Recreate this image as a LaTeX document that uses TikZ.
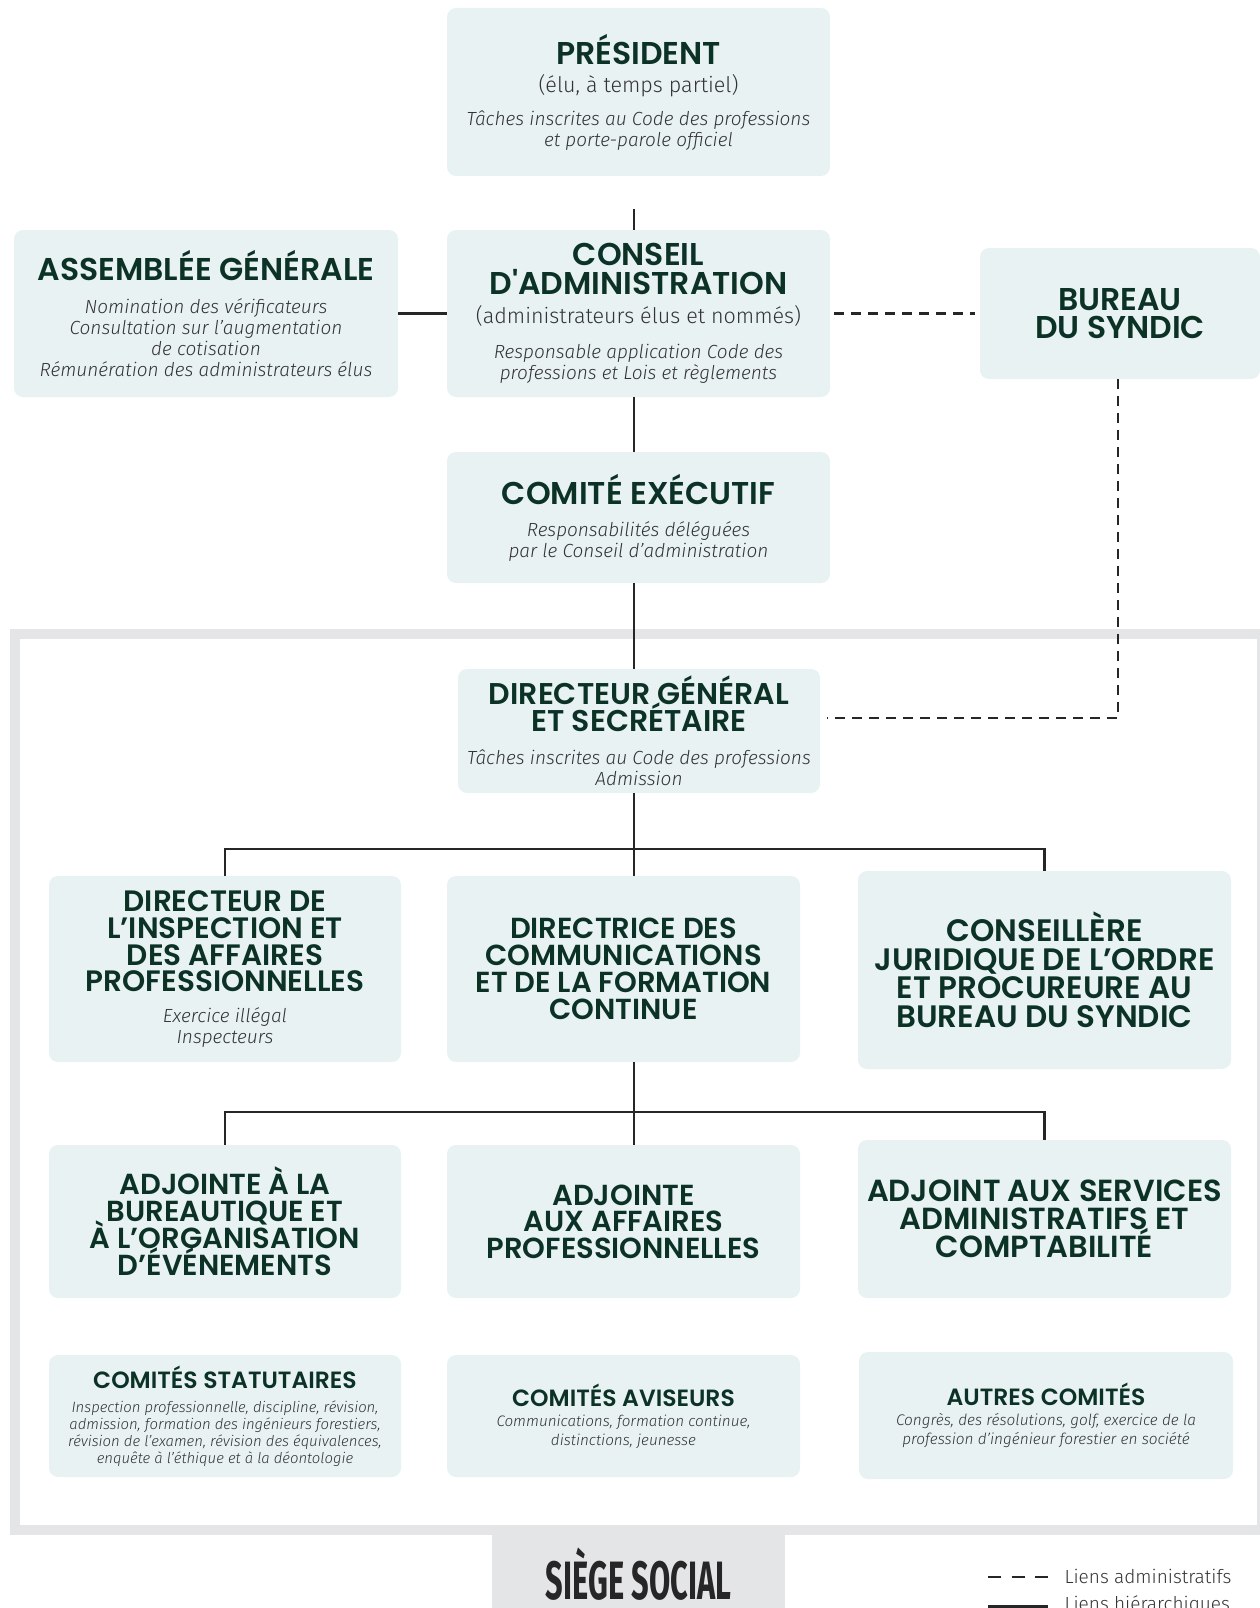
\documentclass[tikz,border=0pt]{standalone}
\usepackage{graphicx}
\usepackage{fontspec}
\setmainfont{Fira Sans Light}[ItalicFont={Fira Sans Light Italic}, BoldFont={Fira Sans Bold}]
\newfontfamily\popfont{Poppins}[BoldFont={Poppins SemiBold}]
\setlength{\lineskiplimit}{-100pt}

\definecolor{boxfill}{HTML}{E8F2F2}
\definecolor{framegray}{HTML}{E4E5E7}
\definecolor{hdgreen}{HTML}{0C3226}
\definecolor{txtgray}{HTML}{333333}
\definecolor{linegray}{HTML}{262626}

\newcommand\hd[2][31.5]{{\popfont\upshape\bfseries\fontsize{#1}{#1}\selectfont\color{hdgreen}#2}}
\newcommand\paren[1]{{\upshape\fontsize{21.5}{21.5}\selectfont #1}}

\tikzset{
  box/.style={rectangle, rounded corners=9pt, fill=boxfill, inner sep=0pt, align=center,
    text=txtgray, font=\fontsize{19}{21}\selectfont\itshape},
  hier/.style={draw=linegray, line width=2.4pt},
  admin/.style={hier, dash pattern=on 10pt off 7pt},
}

\begin{document}
\begin{tikzpicture}[x=1pt, y=-1pt]
  \useasboundingbox (0,0) rectangle (1260,1608);
  \draw[framegray, line width=10pt] (15,634) rectangle (1262,1530);
  \node[fill=framegray, minimum width=293pt, minimum height=88pt, inner sep=0pt] (siege) at (638.5,1574)
    {\scalebox{0.57}[1]{\bfseries\fontsize{54}{54}\selectfont\color{black!85}SIÈGE SOCIAL}};

  % gouvernance
  \node[box, minimum width=383pt, minimum height=168pt] (pres) at (638.5,92)
    {\hd{PRÉSIDENT}\\[7pt]\paren{(élu, à temps partiel)}\\[12pt]Tâches inscrites au Code des professions\\et porte-parole officiel};
  \node[box, minimum width=384pt, minimum height=167pt] (ag) at (206,313.5)
    {\hd{ASSEMBLÉE GÉNÉRALE}\\[12pt]Nomination des vérificateurs\\Consultation sur l’augmentation\\de cotisation\\Rémunération des administrateurs élus};
  \node[box, minimum width=383pt, minimum height=167pt] (ca) at (638.5,313.5)
    {\hd{CONSEIL}\\[8pt]\hd{D'ADMINISTRATION}\\[8pt]\paren{(administrateurs élus et nommés)}\\[14pt]Responsable application Code des\\professions et Lois et règlements};
  \node[box, minimum width=280pt, minimum height=131pt] (bureau) at (1120,313.5)
    {\hd{BUREAU}\\[7pt]\hd{DU SYNDIC}};
  \node[box, minimum width=383pt, minimum height=131pt] (ce) at (638.5,517.5)
    {\hd{COMITÉ EXÉCUTIF}\\[11pt]Responsabilités déléguées\\par le Conseil d’administration};
  \node[box, minimum width=362pt, minimum height=124pt] (dg) at (639,731)
    {\hd[30]{DIRECTEUR GÉNÉRAL}\\[6pt]\hd[30]{ET SECRÉTAIRE}\\[12pt]Tâches inscrites au Code des professions\\Admission};

  % directions
  \node[box, minimum width=352pt, minimum height=186pt] (insp) at (225,969)
    {\hd[29.5]{DIRECTEUR DE}\\[6pt]\hd[29.5]{L’INSPECTION ET}\\[6pt]\hd[29.5]{DES AFFAIRES}\\[5pt]\hd[29.5]{PROFESSIONNELLES}\\[10pt]Exercice illégal\\Inspecteurs};
  \node[box, minimum width=353pt, minimum height=186pt] (comm) at (623.5,969)
    {\hd[29]{DIRECTRICE DES}\\[6pt]\hd[29]{COMMUNICATIONS}\\[6pt]\hd[29]{ET DE LA FORMATION}\\[6pt]\hd[29]{CONTINUE}};
  \node[box, minimum width=373pt, minimum height=198pt] (jur) at (1044.5,970)
    {\hd[31]{CONSEILLÈRE}\\[7.5pt]\hd[31]{JURIDIQUE DE L’ORDRE}\\[7.5pt]\hd[31]{ET PROCUREURE AU}\\[7.5pt]\hd[31]{BUREAU DU SYNDIC}};

  % adjoints
  \node[box, minimum width=352pt, minimum height=153pt] (bur) at (225,1221.5)
    {\hd[29]{ADJOINTE À LA}\\[6pt]\hd[29]{BUREAUTIQUE ET}\\[6pt]\hd[29]{À L’ORGANISATION}\\[6pt]\hd[29]{D’ÉVÉNEMENTS}};
  \node[box, minimum width=353pt, minimum height=153pt] (aff) at (623.5,1221.5)
    {\hd[29]{ADJOINTE}\\[5.5pt]\hd[29]{AUX AFFAIRES}\\[5.5pt]\hd[29]{PROFESSIONNELLES}};
  \node[box, minimum width=373pt, minimum height=158pt] (serv) at (1044.5,1219)
    {\hd[30.5]{ADJOINT AUX SERVICES}\\[7pt]\hd[30.5]{ADMINISTRATIFS ET}\\[7pt]\hd[30.5]{COMPTABILITÉ}};

  % comites
  \node[box, minimum width=352pt, minimum height=122pt, font=\fontsize{14.9}{17}\selectfont\itshape] (cstat) at (225,1416)
    {\hd[23.5]{COMITÉS STATUTAIRES}\\[7pt]Inspection professionnelle, discipline, révision,\\admission, formation des ingénieurs forestiers,\\révision de l’examen, révision des équivalences,\\enquête à l’éthique et à la déontologie};
  \node[box, minimum width=353pt, minimum height=122pt, font=\fontsize{15.2}{19}\selectfont\itshape] (cavis) at (623.5,1416)
    {\hd[23.5]{COMITÉS AVISEURS}\\[1pt]Communications, formation continue,\\distinctions, jeunesse};
  \node[box, minimum width=374pt, minimum height=127pt, font=\fontsize{15.4}{19}\selectfont\itshape] (cautr) at (1046,1415.5)
    {\hd[23.5]{AUTRES COMITÉS}\\[1pt]Congrès, des résolutions, golf, exercice de la\\profession d’ingénieur forestier en société};

  % liens
  \coordinate (trunk) at (634,209);
  \draw[hier] (trunk) -- (ca.north -| trunk);
  \draw[hier] (ag.east) -- (ca.west);
  \draw[hier] (ca.south -| trunk) -- (ce.north -| trunk);
  \draw[hier] (ce.south -| trunk) -- (dg.north -| trunk);
  \draw[admin, shorten <=4pt, shorten >=5pt] (ca.east) -- (bureau.west);
  \coordinate (dglink) at (827,718);
  \draw[admin] (bureau.south -| 1118,0) |- (dglink);
  \foreach \up/\lft/\cen/\rgt/\yb in {dg/insp/comm/jur/849, comm/bur/aff/serv/1112}{
    \coordinate (bus) at (634,\yb);
    \draw[hier] (\up.south -| bus) -- (\cen.north -| bus);
    \draw[hier] (\lft.north) |- (bus) -| (\rgt.north);
  }

  % legende
  \node[anchor=base west, text=txtgray, font=\fontsize{19}{19}\selectfont] (lgadm) at (1061,1583) {Liens administratifs};
  \node[anchor=base west, text=txtgray, font=\fontsize{19}{19}\selectfont] (lghier) at (1061,1610) {Liens hiérarchiques};
  \coordinate (lga) at (988,1577);
  \coordinate (lgb) at (1048,1577);
  \coordinate (lgc) at (988,1606);
  \coordinate (lgd) at (1048,1606);
  \draw[hier, dash pattern=on 13pt off 10.5pt] (lga) -- (lgb);
  \draw[hier, line width=3pt] (lgc) -- (lgd);
\end{tikzpicture}
\end{document}
